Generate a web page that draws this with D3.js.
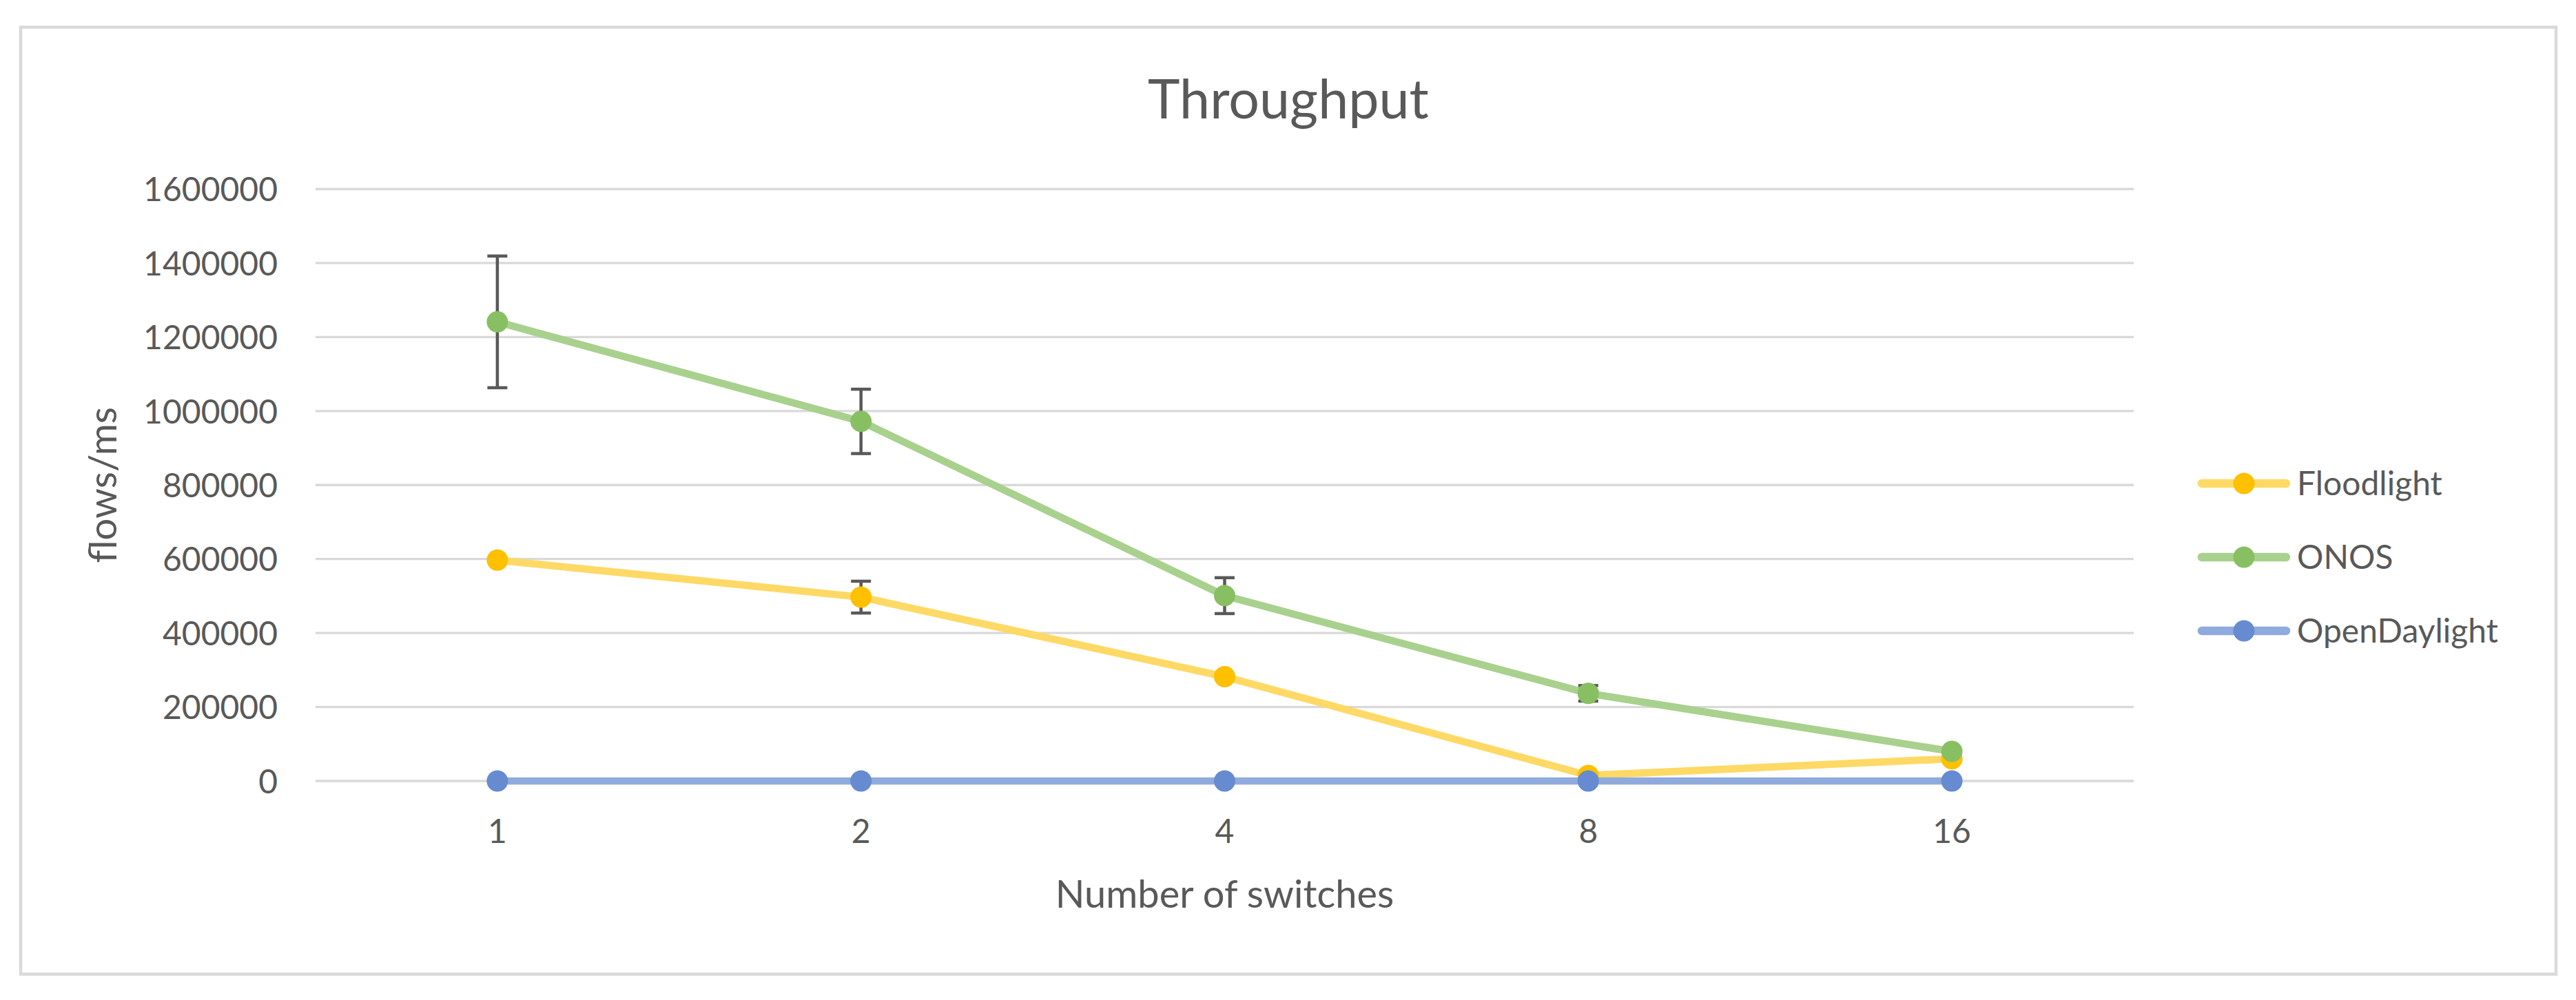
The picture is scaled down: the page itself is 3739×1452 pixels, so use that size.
<!DOCTYPE html>
<html>
<head>
<meta charset="utf-8">
<script src="https://cdn.jsdelivr.net/npm/d3@7"></script>
<style>
  html, body { margin: 0; padding: 0; background: #ffffff; }
  svg { display: block; }
  text { font-family: Lato, "Open Sans", "Noto Sans", sans-serif; fill: #595959; }
</style>
</head>
<body>
<script>
// ---------- data ----------
const categories = ["1", "2", "4", "8", "16"];
const seriesNames = ["Floodlight", "ONOS", "OpenDaylight"];
const floodlight = [597000, 497000, 282000, 15000, 60000];
const onos = [1241000, 972000, 501000, 237000, 80000];
const openDaylight = [0, 0, 0, 0, 0];
const floodlightErr = [0, 43000, 0, 0, 0];
const onosErr = [178000, 87000, 48500, 21000, 0];
const openDaylightErr = [0, 0, 0, 0, 0];
const yTicks = [0, 200000, 400000, 600000, 800000, 1000000, 1200000, 1400000, 1600000];
const titleText = "Throughput";
const xTitle = "Number of switches";
const yTitle = "flows/ms";

const lineColors = ["#FFD966", "#A9D18E", "#8FAADC"];
const markerColors = ["#FFC000", "#88BF63", "#678BD0"];

const series = [
  { name: seriesNames[0], values: floodlight, err: floodlightErr },
  { name: seriesNames[1], values: onos, err: onosErr },
  { name: seriesNames[2], values: openDaylight, err: openDaylightErr }
];

// ---------- layout ----------
const W = 3739, H = 1452;
const plot = { left: 458, right: 3097, top: 274.5, bottom: 1134 };

const svg = d3.select("body").append("svg")
  .attr("width", W).attr("height", H);

svg.append("rect").attr("x", 0).attr("y", 0).attr("width", W).attr("height", H).attr("fill", "#ffffff");
svg.append("rect")
  .attr("x", 30).attr("y", 39.5).attr("width", 3680).attr("height", 1375)
  .attr("fill", "#ffffff").attr("stroke", "#D9D9D9").attr("stroke-width", 4.5);

const x = d3.scaleBand().domain(categories).range([plot.left, plot.right]).padding(0);
const y = d3.scaleLinear().domain([0, 1600000]).range([plot.bottom, plot.top]);
const cx = c => x(c) + x.bandwidth() / 2;

// gridlines
svg.append("g").selectAll("line").data(yTicks).join("line")
  .attr("x1", plot.left).attr("x2", plot.right)
  .attr("y1", d => y(d)).attr("y2", d => y(d))
  .attr("stroke", "#D9D9D9").attr("stroke-width", 3.3);

// y axis labels
const yAxis = d3.axisLeft(y).tickValues(yTicks).tickSize(0).tickPadding(55).tickFormat(d3.format("d"));
const gy = svg.append("g").attr("transform", `translate(${plot.left},0)`).call(yAxis);
gy.select(".domain").remove();
gy.selectAll("text").attr("font-size", 48).attr("fill", "#595959")
  .attr("font-family", "Lato, sans-serif").attr("dy", "0.36em");

// x axis labels
const xAxis = d3.axisBottom(x).tickSize(0).tickPadding(0);
const gx = svg.append("g").attr("transform", `translate(0,1224)`).call(xAxis);
gx.select(".domain").remove();
gx.selectAll("text").attr("font-size", 48).attr("fill", "#595959")
  .attr("font-family", "Lato, sans-serif").attr("dy", 0).attr("y", 0);

// series
const line = d3.line().x((d, i) => cx(categories[i])).y(d => y(d));
series.forEach((s, si) => {
  const g = svg.append("g");
  g.append("path").datum(s.values)
    .attr("d", line).attr("fill", "none")
    .attr("stroke", lineColors[si]).attr("stroke-width", 10.7)
    .attr("stroke-linejoin", "round").attr("stroke-linecap", "round");
  // error bars
  const eb = g.append("g").selectAll("g").data(s.values.map((v, i) => ({ v, e: s.err[i], c: categories[i] })))
    .join("g");
  eb.append("line")
    .attr("x1", d => cx(d.c)).attr("x2", d => cx(d.c))
    .attr("y1", d => y(d.v + d.e)).attr("y2", d => y(d.v - d.e))
    .attr("stroke", "#595959").attr("stroke-width", 4.5);
  eb.append("line")
    .attr("x1", d => cx(d.c) - 14.5).attr("x2", d => cx(d.c) + 14.5)
    .attr("y1", d => y(d.v + d.e)).attr("y2", d => y(d.v + d.e))
    .attr("stroke", "#595959").attr("stroke-width", 4.5);
  eb.append("line")
    .attr("x1", d => cx(d.c) - 14.5).attr("x2", d => cx(d.c) + 14.5)
    .attr("y1", d => y(d.v - d.e)).attr("y2", d => y(d.v - d.e))
    .attr("stroke", "#595959").attr("stroke-width", 4.5);
  // markers
  g.append("g").selectAll("circle").data(s.values).join("circle")
    .attr("cx", (d, i) => cx(categories[i])).attr("cy", d => y(d))
    .attr("r", 15.5).attr("fill", markerColors[si]);
});

// legend
const legendY = d3.scalePoint().domain(seriesNames).range([702, 916]);
const lg = svg.append("g").selectAll("g").data(series).join("g")
  .attr("transform", d => `translate(0,${legendY(d.name)})`);
lg.append("line").attr("x1", 3196).attr("x2", 3318).attr("y1", 0).attr("y2", 0)
  .attr("stroke", (d, i) => lineColors[i]).attr("stroke-width", 12.5).attr("stroke-linecap", "round");
lg.append("circle").attr("cx", 3257).attr("cy", 0).attr("r", 15.5)
  .attr("fill", (d, i) => markerColors[i]);
lg.append("text").attr("x", 3334).attr("y", 17).attr("font-size", 48).text(d => d.name);

// titles
svg.append("text").attr("x", 1870).attr("y", 172).attr("text-anchor", "middle")
  .attr("font-size", 79).text(titleText);
svg.append("text").attr("x", (plot.left + plot.right) / 2).attr("y", 1318).attr("text-anchor", "middle")
  .attr("font-size", 56).text(xTitle);
svg.append("text").attr("transform", `translate(169,${(plot.top + plot.bottom) / 2}) rotate(-90)`)
  .attr("text-anchor", "middle").attr("font-size", 56).text(yTitle);
</script>
</body>
</html>
